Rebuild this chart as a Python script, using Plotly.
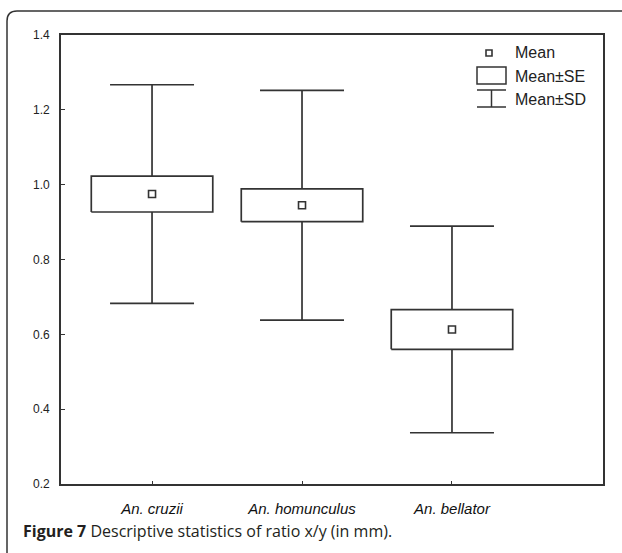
import plotly.graph_objects as go

categories = ["An. cruzii", "An. homunculus", "An. bellator"]
means = [0.975, 0.945, 0.613]
se = [0.048, 0.044, 0.053]
sd = [0.292, 0.307, 0.276]
y_ticks = [0.2, 0.4, 0.6, 0.8, 1.0, 1.2, 1.4]
legend_labels = ["Mean", "Mean\u00b1SE", "Mean\u00b1SD"]
caption_bold = "Figure 7"
caption_text = "Descriptive statistics of ratio x/y (in mm)."

LINE = "#333333"
W = 622
H = 553
L, R, T, B = 61, 19, 35, 69
PW = W - L - R
PH = H - T - B

def px(x):
    return (x - L) / PW

def py(y):
    return (H - B - y) / PH

BOX_HW = 0.405
CAP_HW = 0.28

fig = go.Figure()

xs = list(range(len(categories)))

# whiskers
wx, wy = [], []
for i, m in enumerate(means):
    lo_se, hi_se = m - se[i], m + se[i]
    lo_sd, hi_sd = m - sd[i], m + sd[i]
    wx += [i, i, None, i, i, None,
           i - CAP_HW, i + CAP_HW, None, i - CAP_HW, i + CAP_HW, None]
    wy += [hi_se, hi_sd, None, lo_se, lo_sd, None,
           hi_sd, hi_sd, None, lo_sd, lo_sd, None]
fig.add_trace(go.Scatter(x=wx, y=wy, mode="lines",
                         line=dict(color=LINE, width=1.7),
                         hoverinfo="skip", showlegend=False))

# SE boxes
for i, m in enumerate(means):
    lo, hi = m - se[i], m + se[i]
    fig.add_trace(go.Scatter(
        x=[i - BOX_HW, i + BOX_HW, i + BOX_HW, i - BOX_HW, i - BOX_HW],
        y=[lo, lo, hi, hi, lo], mode="lines", fill="toself",
        fillcolor="white", line=dict(color=LINE, width=1.7),
        hoverinfo="skip", showlegend=False))

# means
fig.add_trace(go.Scatter(x=xs, y=means, mode="markers",
                         marker=dict(symbol="square", size=7, color="white",
                                     line=dict(color=LINE, width=1.6)),
                         showlegend=False))

shapes = []
# outer rounded frame (top-left visible)
r = 10
path = (f"M {px(7)},{py(600)} L {px(7)},{py(11 + r)} "
        f"Q {px(7)},{py(11)} {px(7 + r)},{py(11)} L {px(640)},{py(11)}")
shapes.append(dict(type="path", xref="paper", yref="paper", path=path,
                   line=dict(color=LINE, width=1.5)))

# legend icons
shapes.append(dict(type="rect", xref="paper", yref="paper",
                   x0=px(486), x1=px(492), y0=py(50), y1=py(56),
                   line=dict(color=LINE, width=1.6), fillcolor="white"))
shapes.append(dict(type="rect", xref="paper", yref="paper",
                   x0=px(477), x1=px(506), y0=py(67), y1=py(84),
                   line=dict(color=LINE, width=1.5), fillcolor="white"))
for yy in (90, 107):
    shapes.append(dict(type="line", xref="paper", yref="paper",
                       x0=px(477), x1=px(506), y0=py(yy), y1=py(yy),
                       line=dict(color=LINE, width=1.5)))
shapes.append(dict(type="line", xref="paper", yref="paper",
                   x0=px(491.5), x1=px(491.5), y0=py(90), y1=py(107),
                   line=dict(color=LINE, width=1.5)))

annotations = []
for lab, yy in zip(legend_labels, (53, 76, 99)):
    annotations.append(dict(xref="paper", yref="paper", x=px(513), y=py(yy),
                            text=lab, showarrow=False, xanchor="left",
                            yanchor="middle",
                            font=dict(family="Liberation Sans", size=16,
                                      color="#222222")))
annotations.append(dict(xref="paper", yref="paper", x=px(21), y=py(531),
                        text=f"<b>{caption_bold}</b> {caption_text}",
                        showarrow=False, xanchor="left", yanchor="middle",
                        font=dict(family="Open Sans", size=16,
                                  color="#231f20")))

fig.update_layout(
    width=W, height=H,
    margin=dict(l=L, r=R, t=T, b=B, pad=0),
    paper_bgcolor="white", plot_bgcolor="white",
    shapes=shapes, annotations=annotations,
    showlegend=False,
    xaxis=dict(range=[-0.607, 3.007], tickvals=xs, ticktext=categories,
               showgrid=False, zeroline=False, showline=True, mirror=True,
               linecolor=LINE, linewidth=1.7, ticks="inside", ticklen=3,
               tickcolor=LINE, tickwidth=1.2,
               tickfont=dict(family="Liberation Sans", size=15,
                             color="#111111", style="italic"),
               ticklabelstandoff=10),
    yaxis=dict(range=[0.2, 1.4], tickvals=y_ticks,
               ticktext=[f"{v:.1f}" for v in y_ticks],
               showgrid=False, zeroline=False, showline=True, mirror=True,
               linecolor=LINE, linewidth=1.7, ticks="inside", ticklen=4,
               tickcolor=LINE, tickwidth=1.2,
               tickfont=dict(family="Liberation Sans", size=12,
                             color="#222222"),
               ticklabelstandoff=7),
)

fig.write_html("out.html")
